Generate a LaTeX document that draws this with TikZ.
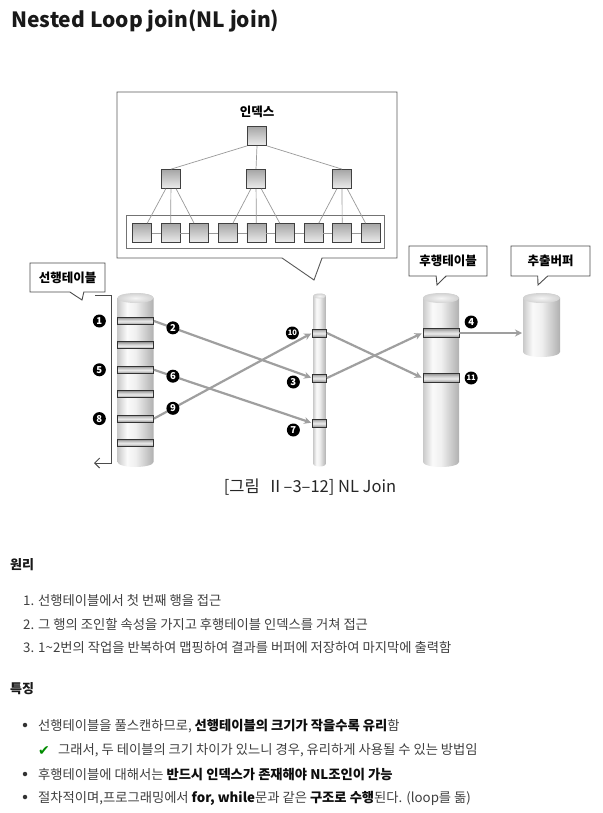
\documentclass[tikz,border=0pt]{standalone}
\usepackage{fontspec}
\setmainfont{Noto Sans CJK KR}
\newfontfamily\symfont{DejaVu Sans}
\usetikzlibrary{positioning,arrows.meta,shapes.callouts}

\pgfdeclarehorizontalshading{drum}{100bp}{color(0bp)=(gray!42); color(25bp)=(gray!42); color(38bp)=(gray!4); color(50bp)=(gray!12); color(75bp)=(gray!62); color(100bp)=(gray!62)}
\pgfdeclareverticalshading{band}{100bp}{color(0bp)=(gray!85); color(25bp)=(gray!85); color(47bp)=(gray!15); color(60bp)=(gray!40); color(75bp)=(gray!85); color(100bp)=(gray!85)}

\tikzset{
  blk/.style={draw=black!75, line width=0.7pt, minimum size=19pt, inner sep=0pt, top color=gray!70, bottom color=gray!15},
  row/.style={draw=black!80, line width=0.9pt, inner sep=0pt, shade, shading=band},
  num/.style={circle, fill=black, text=white, inner sep=0pt, minimum size=13pt, font=\bfseries\fontsize{9.5}{10}\selectfont},
  tag/.style={rectangle callout, draw=black!70, line width=0.9pt, fill=white, inner sep=0pt, font=\bfseries\fontsize{12.5}{14}\selectfont},
  flow/.style={draw=gray!75, line width=2.2pt, -{Stealth[length=7pt,width=7pt]}, shorten >=1pt},
  tline/.style={draw=gray!80, line width=0.7pt},
  txt/.style={anchor=base west, inner sep=0pt, text=black!75, font=\fontsize{13.3}{15}\selectfont}
}

\begin{document}
\begin{tikzpicture}[x=1pt,y=-1pt]
\useasboundingbox (0,0) rectangle (602,813);
\fill[white] (0,0) rectangle (602,813);

% title
\node[anchor=base west, inner sep=0pt, font=\bfseries\fontsize{21}{24}\selectfont, text=black!90] (title) at (11,28) {Nested Loop join(NL join)};

% index callout
\node[rectangle callout, draw=black!65, line width=0.9pt, minimum width=280pt, minimum height=166pt,
  callout absolute pointer={(314,280)}, callout pointer width=40pt] (idxbox) at (257,175) {};
\node[font=\bfseries\fontsize{12.5}{14}\selectfont] (idxlabel) at (257,112) {인덱스};
\node[draw=black!55, line width=0.8pt, fill=white, minimum width=258pt, minimum height=33pt] (leafbox) at (255,231.5) {};

% tree
\node[blk] (root) at (257,136) {};
\node[blk] (m1) at (171,179) {};
\node[blk] (m2) at (256,179) {};
\node[blk] (m3) at (342,179) {};
\draw[tline] (root.south west) -- (m1.north);
\draw[tline] (root.south) -- (m2.north);
\draw[tline] (root.south east) -- (m3.north);
\foreach \i in {1,...,9}
  \node[blk] (l\i) at ({113.4+28.6*\i},233) {};
\foreach \i [count=\j from 2] in {1,...,8}
  \draw[tline] (l\i) -- (l\j);
\foreach \p/\a/\b/\c in {1/1/2/3, 2/4/5/6, 3/7/8/9}{
  \draw[tline] (m\p) -- (l\a);
  \draw[tline] (m\p) -- (l\b);
  \draw[tline] (m\p) -- (l\c);
}

% tables
\foreach \cx/\hw/\ty/\by/\ry in {135.5/18/298/462/5, 319.5/6.5/296/464/2.5, 441/18/298/462/5, 541.5/18.5/298/352/5}{
  \shade[shading=drum]
    (\cx-\hw,\ty) -- (\cx-\hw,\by) arc[start angle=180, end angle=360, x radius=\hw pt, y radius=\ry pt]
    -- (\cx+\hw,\ty) arc[start angle=0, end angle=180, x radius=\hw pt, y radius=\ry pt] -- cycle;
  \shade[inner color=gray!8, outer color=gray!35] (\cx,\ty) ellipse[x radius=\hw pt, y radius=\ry pt];
}

% labels
\node[tag, minimum width=75pt, minimum height=29pt, callout absolute pointer={(82,300)}, callout pointer width=14pt] (outer) at (67.5,277.5) {선행테이블};
\node[tag, minimum width=78pt, minimum height=30pt, callout absolute pointer={(437,285)}, callout pointer width=10pt] (inner) at (448,261) {후행테이블};
\node[tag, minimum width=79pt, minimum height=30pt, callout absolute pointer={(538,285)}, callout pointer width=10pt] (buffer) at (550.5,261) {추출버퍼};

% scan bracket
\coordinate (s1) at (95,295);
\coordinate (s2) at (111,463);
\coordinate (s3) at (94,463);
\draw[black!70, line width=1pt, -{Straight Barb[length=5pt,width=10pt]}] (s1) -| (s2) -- (s3);

% rows
\foreach \i in {1,...,6}
  \node[row, minimum width=36pt, minimum height=7pt] (a\i) at (135.5,{321+24.4*(\i-1)}) {};
\node[row, minimum width=14pt, minimum height=8pt] (b1) at (319.5,333) {};
\node[row, minimum width=14pt, minimum height=8pt] (b2) at (319.5,378) {};
\node[row, minimum width=14pt, minimum height=8pt] (b3) at (319.5,423) {};
\node[row, minimum width=36pt, minimum height=9pt] (c1) at (441,333) {};
\node[row, minimum width=36pt, minimum height=9pt] (c2) at (441,378) {};
\coordinate (buf) at (523,333);

% flows
\draw[flow] (a1.east) -- node[num, pos=.12] (n2) {2} (b2.west);
\draw[flow] (a3.east) -- node[num, pos=.12] (n6) {6} (b3.west);
\draw[flow] (a5.east) -- node[num, pos=.12] (n9) {9} (b1.west);
\draw[flow] (b1.east) -- (c2.west);
\draw[flow] (b2.east) -- (c1.west);
\draw[flow] (c1.east) -- (buf);

% step numbers
\node[num, left=11pt of a1] (n1) {1};
\node[num, left=11pt of a3] (n5) {5};
\node[num, left=11pt of a5] (n8) {8};
\node[num, left=13pt of b1, font=\bfseries\fontsize{7.5}{8}\selectfont] (n10) {10};
\node[num, left=12pt of b2, yshift=-4pt] (n3) {3};
\node[num, left=12pt of b3, yshift=-7pt] (n7) {7};
\node[num, right=5pt of c1, yshift=11pt] (n4) {4};
\node[num, right=5pt of c2, font=\bfseries\fontsize{7.5}{8}\selectfont] (n11) {11};

% caption
\node[font=\fontsize{16.5}{18}\selectfont, text=black!85] (cap) at (310,487) {[그림~~Ⅱ–3–12] NL Join};

% text
\node[txt, text=black!90, font=\bfseries\fontsize{13}{15}\selectfont] (h1) at (10,569) {원리};
\node[txt] (p1) at (23,605) {1. 선행테이블에서 첫 번째 행을 접근};
\node[txt] (p2) at (23,629) {2. 그 행의 조인할 속성을 가지고 후행테이블 인덱스를 거쳐 접근};
\node[txt] (p3) at (23,652) {3. 1\textasciitilde 2번의 작업을 반복하여 맵핑하여 결과를 버퍼에 저장하여 마지막에 출력함};

\node[txt, text=black!90, font=\bfseries\fontsize{13}{15}\selectfont] (h2) at (10,693) {특징};
\node[circle, fill=black!80, inner sep=0pt, minimum size=4.5pt] (d1) at (25,725) {};
\node[txt] (q1) at (38,730) {선행테이블을 풀스캔하므로, \textcolor{black!95}{\bfseries 선행테이블의 크기가 작을수록 유리}함};
\node[anchor=base west, inner sep=0pt, text=green!55!black, font=\symfont\fontsize{14}{15}\selectfont] (ok) at (38,755) {✔};
\node[txt] (q2) at (58,754) {그래서, 두 테이블의 크기 차이가 있느니 경우, 유리하게 사용될 수 있는 방법임};
\node[circle, fill=black!80, inner sep=0pt, minimum size=4.5pt] (d2) at (25,774) {};
\node[txt] (q3) at (38,779) {후행테이블에 대해서는 \textcolor{black!95}{\bfseries 반드시 인덱스가 존재해야 NL조인이 가능}};
\node[circle, fill=black!80, inner sep=0pt, minimum size=4.5pt] (d3) at (25,797) {};
\node[txt] (q4) at (38,802) {절차적이며,프로그래밍에서 \textcolor{black!95}{\bfseries for, while}문과 같은 \textcolor{black!95}{\bfseries 구조로 수행}된다. (loop를 돎)};
\end{tikzpicture}
\end{document}
